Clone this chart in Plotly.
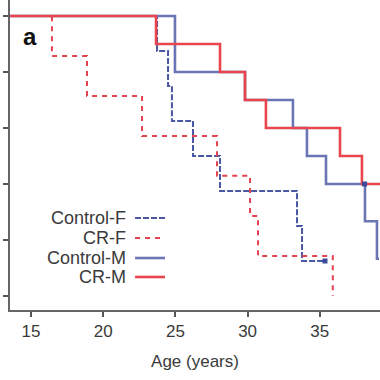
import plotly.graph_objects as go

# Kaplan-Meier style survival steps (age in years, fraction surviving)
control_f_age = [13.0, 23.73, 24.49, 24.76, 26.22, 28.09, 33.42, 33.77, 35.5]
control_f_surv = [1.0, 0.875, 0.75, 0.625, 0.5, 0.375, 0.25, 0.125, 0.125]

cr_f_age = [13.0, 16.45, 18.88, 22.69, 27.88, 30.17, 30.72, 35.9]
cr_f_surv = [1.0, 0.857, 0.714, 0.571, 0.429, 0.286, 0.143, 0.0]

control_m_age = [13.0, 24.97, 29.82, 33.14, 34.11, 35.43, 38.13, 38.96, 39.1]
control_m_surv = [1.0, 0.8, 0.7, 0.6, 0.5, 0.4, 0.267, 0.133, 0.133]

cr_m_age = [13.0, 23.66, 28.09, 29.82, 31.27, 36.40, 37.92, 39.6]
cr_m_surv = [1.0, 0.9, 0.8, 0.7, 0.6, 0.5, 0.4, 0.4]

# censored observations
control_f_cens_age = [35.36]
control_f_cens_surv = [0.125]
control_m_cens_age = [38.1]
control_m_cens_surv = [0.4]

x_ticks = [15, 20, 25, 30, 35]
y_ticks = [0.0, 0.2, 0.4, 0.6, 0.8, 1.0]
y_tick_labels = ["0.0", "0.2", "0.4", "0.6", "0.8", "1.0"]

legend_names = ["Control-F", "CR-F", "Control-M", "CR-M"]

BLUE_D = "#4b58a3"
RED_D = "#e5414f"
BLUE_S = "#6a76b4"
RED_S = "#e8454d"
FONT = "Liberation Sans, Arial, Helvetica, sans-serif"

fig = go.Figure()
fig.add_trace(go.Scatter(x=control_f_age, y=control_f_surv, mode="lines", line_shape="hv",
                         line=dict(color=BLUE_D, width=2, dash="6px,2px"), name=legend_names[0]))
fig.add_trace(go.Scatter(x=cr_f_age, y=cr_f_surv, mode="lines", line_shape="hv",
                         line=dict(color=RED_D, width=2, dash="5px,5px"), name=legend_names[1]))
fig.add_trace(go.Scatter(x=control_m_age, y=control_m_surv, mode="lines", line_shape="hv",
                         line=dict(color=BLUE_S, width=2.6), name=legend_names[2]))
fig.add_trace(go.Scatter(x=cr_m_age, y=cr_m_surv, mode="lines", line_shape="hv",
                         line=dict(color=RED_S, width=2.6), name=legend_names[3]))
fig.add_trace(go.Scatter(x=control_f_cens_age, y=control_f_cens_surv, mode="markers",
                         marker=dict(symbol="square", size=5, color="#3d4a99"), showlegend=False))
fig.add_trace(go.Scatter(x=control_m_cens_age, y=control_m_cens_surv, mode="markers",
                         marker=dict(symbol="square", size=5, color="#3d4a99"), showlegend=False))

# Manual legend: text right-aligned, line sample on the right
leg_rows = [0.2968, 0.2323, 0.1677, 0.1065]
leg_styles = [
    dict(color=BLUE_D, width=2, dash="6px,2px"),
    dict(color=RED_D, width=2, dash="5px,5px"),
    dict(color=BLUE_S, width=2.6),
    dict(color=RED_S, width=2.6),
]
annotations = []
shapes = []
for name, yy, st in zip(legend_names, leg_rows, leg_styles):
    annotations.append(dict(x=0.320, y=yy, xref="paper", yref="paper", text=name,
                            showarrow=False, xanchor="right", yanchor="middle",
                            font=dict(family=FONT, size=18, color="#3a3a3a")))
    shapes.append(dict(type="line", xref="paper", yref="paper", x0=0.338, x1=0.419,
                       y0=yy, y1=yy, line=st))

annotations.append(dict(x=0.030, y=0.882, xref="paper", yref="paper", text="<b>a</b>",
                        showarrow=False, xanchor="left", yanchor="middle",
                        font=dict(family=FONT, size=24, color="#111111")))

fig.update_layout(
    width=380, height=380,
    margin=dict(l=10, r=0, t=0, b=70),
    paper_bgcolor="white", plot_bgcolor="white",
    showlegend=False,
    template="none",
    font=dict(family=FONT, size=17, color="#3a3a3a"),
    annotations=annotations,
    shapes=shapes,
)
fig.update_xaxes(range=[13.545, 39.17], tickvals=x_ticks, ticks="outside", ticklen=5,
                 tickcolor="#555", tickwidth=1.5, showline=True, linecolor="#666", linewidth=2,
                 showgrid=False, zeroline=False, automargin=False,
                 tickfont=dict(family=FONT, size=17, color="#3a3a3a"),
                 title=dict(text="Age (years)", standoff=15,
                            font=dict(family=FONT, size=17, color="#3a3a3a")))
fig.update_yaxes(range=[-0.05, 1.0571], tickvals=y_ticks, ticktext=y_tick_labels,
                 ticks="outside", ticklen=5, tickcolor="#555", tickwidth=1.5,
                 showline=True, linecolor="#666", linewidth=2,
                 showgrid=False, zeroline=False, automargin=False,
                 tickfont=dict(family=FONT, size=17, color="#3a3a3a"))

fig.write_html("out.html", config={"displayModeBar": False},
               post_script="document.body.style.margin='0';document.body.style.padding='0';")
